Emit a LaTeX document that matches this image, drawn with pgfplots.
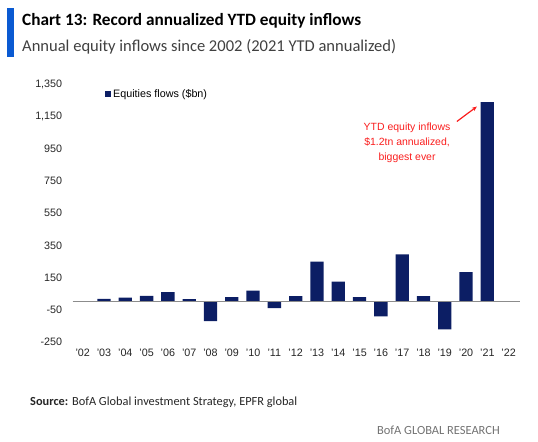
\documentclass[border=0pt]{standalone}
\usepackage{pgfplots}
\pgfplotsset{compat=1.18}
\usetikzlibrary{arrows.meta}
\usepackage{fontspec}
\setmainfont{Liberation Sans}
\newfontfamily\titlefont{Carlito}
\definecolor{navy}{RGB}{12,30,100}
\definecolor{titleblue}{RGB}{10,90,210}
\definecolor{annred}{RGB}{250,30,30}
\pgfplotstableread{
x y
0 2
1 17
2 25
3 35
4 58
5 15
6 -122
7 27
8 68
9 -41
10 33
11 249
12 124
13 27
14 -93
15 293
16 33
17 -174
18 183
19 1241
}\flows
\begin{document}
\begin{tikzpicture}[x=1bp,y=1bp]
\useasboundingbox (0,0) rectangle (538,442);
\fill[titleblue] (7,434) rectangle (14,385);
\node[anchor=west, font=\titlefont\bfseries\fontsize{17.3}{20}\selectfont, inner sep=0] at (22,421) {Chart 13: Record annualized YTD equity inflows};
\node[anchor=west, font=\titlefont\fontsize{16.6}{20}\selectfont, inner sep=0, text=black!75] at (22,395) {Annual equity inflows since 2002 (2021 YTD annualized)};
\begin{axis}[
  at={(72.7bp,100.3bp)}, anchor=south west, scale only axis,
  width=447bp, height=257bp,
  xmin=-0.47, xmax=20.52, ymin=-250, ymax=1350,
  axis line style={draw=none}, major tick length=0,
  ytick={-250,-50,150,350,550,750,950,1150,1350},
  xtick={0,...,20},
  xticklabels={'02,'03,'04,'05,'06,'07,'08,'09,'10,'11,'12,'13,'14,'15,'16,'17,'18,'19,'20,'21,'22},
  /pgf/number format/assume math mode=true,
  /pgf/number format/1000 sep={,},
  ticklabel style={font=\fontsize{10.8}{12}\selectfont, text=black!85},
  yticklabel style={xshift=-7bp},
  xticklabel style={yshift=-4bp},
  clip=false,
  legend style={at={(0.07,0.964)}, anchor=west, draw=none, fill=none, font=\fontsize{10.8}{12}\selectfont, inner sep=1bp},
  legend image code/.code={\fill[navy] (0bp,-3bp) rectangle (6bp,3bp);},
]
\addplot[ybar, fill=navy, draw=none, bar width=0.625] table[x=x,y=y] {\flows};
\addlegendentry{Equities flows (\$bn)}
\draw[black!45, line width=1bp] (axis cs:-0.47,0) -- (axis cs:20.52,0);
\node[text=annred, align=center, font=\fontsize{10.5}{15}\selectfont] at (axis cs:15.23,990) {YTD equity inflows\\\$1.2tn annualized,\\biggest ever};
\draw[annred, -{Stealth[length=5bp,width=4bp]}, line width=1.2bp] (axis cs:17.57,1121) -- (axis cs:18.51,1214);
\end{axis}
\node[anchor=west, font=\titlefont\fontsize{12.4}{14}\selectfont, inner sep=0, text=black!85] at (30,40) {\textbf{Source:} BofA Global investment Strategy, EPFR global};
\node[anchor=east, font=\titlefont\fontsize{12.5}{14}\selectfont, inner sep=0, text=black!55] at (500,12) {BofA GLOBAL RESEARCH};
\end{tikzpicture}
\end{document}
